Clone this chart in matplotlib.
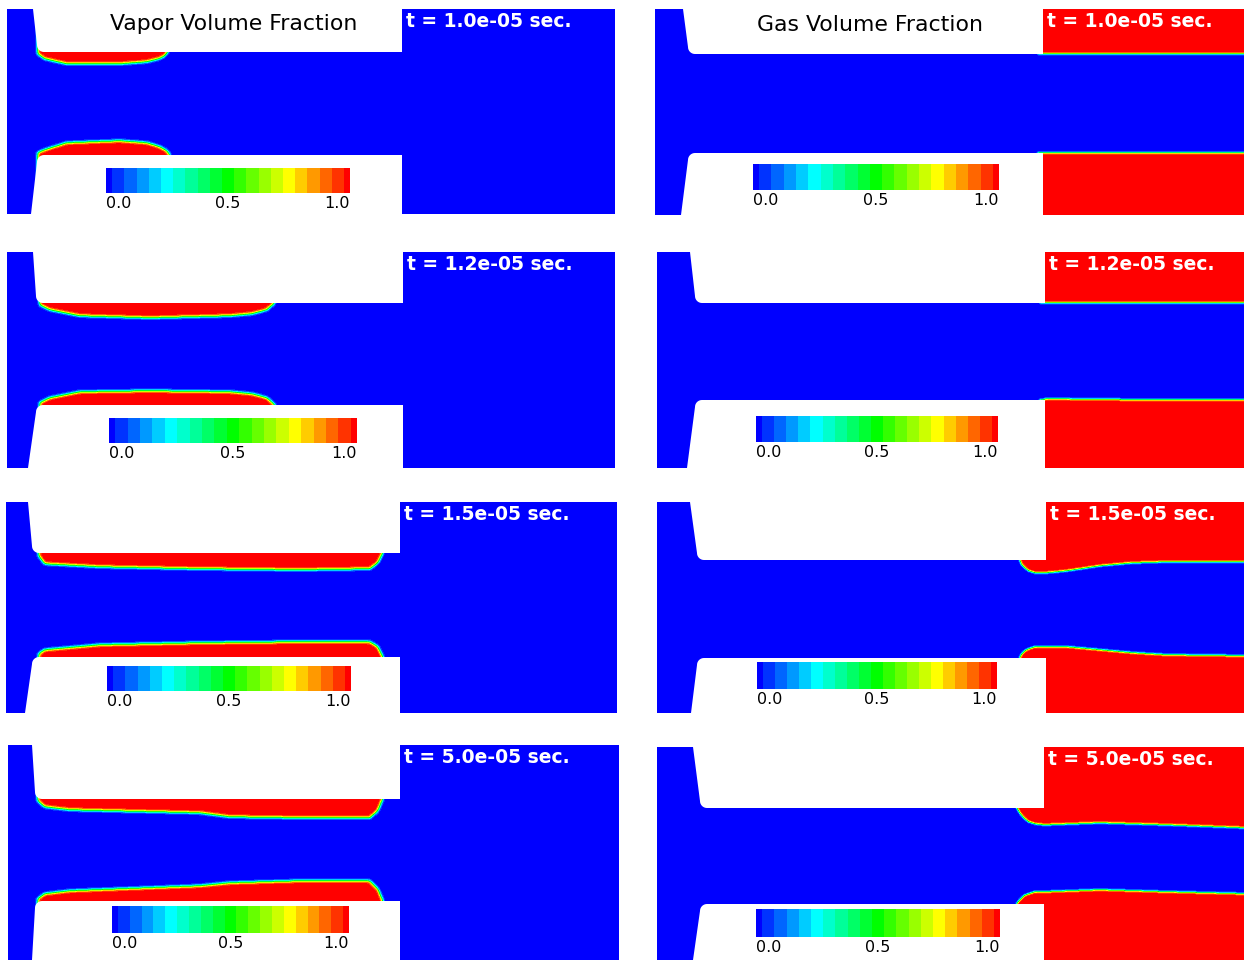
import numpy as np
import matplotlib
matplotlib.use("Agg")
import matplotlib.pyplot as plt
from matplotlib.colors import ListedColormap, BoundaryNorm
from matplotlib.cm import ScalarMappable

FW, FH = 1244, 960

times = ["1.0e-05", "1.2e-05", "1.5e-05", "5.0e-05"]

# panel boxes in pixels (x0, y0, width, height)
vap_rect = [(7, 9, 608, 205), (7, 252, 608, 216), (6, 502, 611, 211), (8, 745, 611, 215)]
gas_rect = [(655, 9, 589, 206), (657, 252, 587, 216), (657, 502, 587, 211), (657, 747, 587, 213)]

# nozzle: channel top / bottom, exit x, inlet wall x (top, corner, bottom)
vap_ch_top = [43, 51, 51, 54]
vap_ch_bot = [146, 153, 155, 156]
vap_exit = [395, 396, 394, 392]
vap_inlet = [(26, 30, 24), (26, 29, 21), (22, 26, 19), (24, 27, 24)]
gas_ch_top = [45, 51, 58, 61]
gas_ch_bot = [144, 148, 156, 157]
gas_exit = [388, 388, 389, 387]
gas_inlet = [(28, 33, 26), (33, 38, 30), (33, 40, 34), (36, 43, 36)]

# vapour sheets on upper / lower wall: x along panel, thickness from wall
cav_top_x = [[31, 38, 60, 113, 140, 152, 158, 161],
             [33, 43, 73, 143, 223, 245, 260, 268],
             [33, 39, 94, 194, 294, 364, 372, 377],
             [30, 37, 62, 192, 222, 292, 362, 370, 375]]
cav_top_h = [[2, 7, 12, 12, 10, 7, 4, 0],
             [2, 7, 13, 15, 13, 11, 7, 0],
             [3, 11, 14, 16, 17, 16, 10, 0],
             [2, 8, 11, 14, 18, 19, 19, 12, 0]]
cav_bot_x = [[31, 38, 60, 113, 140, 153, 160, 163],
             [33, 43, 73, 143, 223, 245, 260, 268],
             [33, 39, 94, 194, 294, 364, 372, 377],
             [30, 37, 62, 192, 222, 292, 362, 370, 375]]
cav_bot_h = [[2, 5, 12, 14, 12, 8, 4, 0],
             [2, 7, 13, 14, 13, 11, 7, 0],
             [3, 7, 12, 14, 15, 15, 10, 0],
             [2, 7, 10, 15, 18, 20, 20, 12, 0]]

# liquid jet edges downstream of the exit
jet_x = [[388, 445, 545, 589], [388, 589],
         [389, 410, 443, 476, 510, 589], [387, 443, 510, 589]]
jet_top = [[45, 44, 42, 40], [50, 49], [71, 69, 64, 61, 60, 60], [78, 76, 78, 81]]
jet_bot = [[144, 145, 148, 150], [147, 149], [145, 145, 148, 151, 153, 154], [145, 143, 145, 147]]

# gas pulled back into the nozzle exit
intr_x = [[], [], [363, 365, 368, 372, 378, 389], [360, 363, 367, 372, 378, 387]]
intr_top = [[], [], [0, 5, 8, 11, 13, 13], [0, 5, 10, 14, 16, 17]]
intr_bot = [[], [], [0, 4, 7, 9, 11, 11], [0, 4, 8, 10, 12, 12]]

vap_cbar = [(106, 168, 244, 25), (109, 418, 248, 25), (107, 666, 244, 25), (112, 906, 237, 27)]
gas_cbar = [(753, 164, 246, 26), (756, 416, 242, 26), (757, 662, 240, 27), (756, 909, 244, 28)]

colors = ['#0000ff', '#0033ff', '#0066ff', '#0099ff', '#00ccff', '#00ffff', '#00ffcc',
          '#00ff99', '#00ff66', '#00ff33', '#00ff00', '#33ff00', '#66ff00', '#99ff00',
          '#ccff00', '#ffff00', '#ffcc00', '#ff9900', '#ff6600', '#ff3300', '#ff0000']
cmap = ListedColormap(colors)
mids = np.arange(0.025, 1.0, 0.05)
field_norm = BoundaryNorm(np.r_[-1, mids, 2], len(colors))
cbar_norm = BoundaryNorm(np.r_[0, mids, 1], len(colors))

STEP = 0.5


def blur(a, s):
    r = int(3 * s) + 1
    k = np.exp(-0.5 * (np.arange(-r, r + 1) / s) ** 2)
    k /= k.sum()
    a = np.pad(a, r, mode="edge")
    a = np.apply_along_axis(lambda v: np.convolve(v, k, "valid"), 0, a)
    a = np.apply_along_axis(lambda v: np.convolve(v, k, "valid"), 1, a)
    return a


def sheet(X, Y, wall, xs, hs, down):
    if len(xs) == 0:
        return np.zeros(X.shape, bool)
    h = np.interp(X, xs, hs)
    d = (Y - wall) if down else (wall - Y)
    return (X >= xs[0]) & (X <= xs[-1]) & (d < h)


def wall_polys(W, H, top, bot, ex, inlet, r=7):
    xt, xc, xb = inlet
    a1 = np.linspace(np.pi, np.pi / 2, 12)
    up_x = np.r_[xt, xc + r + r * np.cos(a1), ex, ex]
    up_y = np.r_[0, top - r + r * np.sin(a1), top, 0]
    a2 = np.linspace(1.5 * np.pi, np.pi, 12)
    lo_x = np.r_[ex, xc + r + r * np.cos(a2), xb, ex]
    lo_y = np.r_[bot, bot + r + r * np.sin(a2), H, H]
    return (up_x, up_y), (lo_x, lo_y)


def setup(rect):
    x0, y0, W, H = rect
    ax = fig.add_axes([x0 / FW, 1 - (y0 + H) / FH, W / FW, H / FH])
    ax.set_xlim(0, W)
    ax.set_ylim(H, 0)
    ax.axis("off")
    X, Y = np.meshgrid(np.arange(STEP / 2, W, STEP), np.arange(STEP / 2, H, STEP))
    return ax, X, Y


def finish(ax, field, rect, top, bot, ex, inlet, t, cb_rect):
    W, H = rect[2], rect[3]
    ax.imshow(field, extent=(0, W, H, 0), cmap=cmap, norm=field_norm,
              interpolation="nearest", aspect="auto")
    for px, py in wall_polys(W, H, top, bot, ex, inlet):
        ax.fill(px, py, color="white", lw=0, zorder=2)
    ax.text(ex + 4, 3, f"t = {t} sec.", color="white", fontweight="bold",
            fontsize=13.5, ha="left", va="top", zorder=4)
    cx, cy, cw, ch = cb_rect
    cax = fig.add_axes([cx / FW, 1 - (cy + ch) / FH, cw / FW, ch / FH])
    cb = fig.colorbar(ScalarMappable(norm=cbar_norm, cmap=cmap), cax=cax,
                      orientation="horizontal", spacing="proportional",
                      ticks=[0, 0.5, 1])
    cb.outline.set_visible(False)
    cax.minorticks_off()
    cb.set_ticklabels(["0.0", "0.5", "1.0"])
    cax.tick_params(which="both", length=0, pad=2, labelsize=11.5)
    labs = cax.get_xticklabels()
    labs[0].set_ha("left")
    labs[-1].set_ha("right")


fig = plt.figure(figsize=(FW / 100, FH / 100), dpi=100)

for i in range(4):
    # vapour volume fraction
    rect = vap_rect[i]
    ax, X, Y = setup(rect)
    m = sheet(X, Y, vap_ch_top[i], cav_top_x[i], cav_top_h[i], True)
    m |= sheet(X, Y, vap_ch_bot[i], cav_bot_x[i], cav_bot_h[i], False)
    field = blur(m.astype(float), 1.4 / STEP)
    finish(ax, field, rect, vap_ch_top[i], vap_ch_bot[i], vap_exit[i],
           vap_inlet[i], times[i], vap_cbar[i])
    if i == 0:
        ax.text(227, 15, "Vapor Volume Fraction", ha="center", va="center",
                fontsize=15.8, zorder=4)

    # gas volume fraction
    rect = gas_rect[i]
    ax, X, Y = setup(rect)
    ex = gas_exit[i]
    yt = np.interp(X, jet_x[i], jet_top[i])
    yb = np.interp(X, jet_x[i], jet_bot[i])
    m = (X > ex) & ((Y < yt) | (Y > yb))
    m |= (X > ex - 5) & ((Y < gas_ch_top[i]) | (Y > gas_ch_bot[i]))
    m |= sheet(X, Y, gas_ch_top[i], intr_x[i], intr_top[i], True)
    m |= sheet(X, Y, gas_ch_bot[i], intr_x[i], intr_bot[i], False)
    field = blur(m.astype(float), 1.0 / STEP)
    finish(ax, field, rect, gas_ch_top[i], gas_ch_bot[i], ex,
           gas_inlet[i], times[i], gas_cbar[i])
    if i == 0:
        ax.text(215, 16, "Gas Volume Fraction", ha="center", va="center",
                fontsize=15.8, zorder=4)

fig.savefig("out.png", dpi=100, facecolor="white")
